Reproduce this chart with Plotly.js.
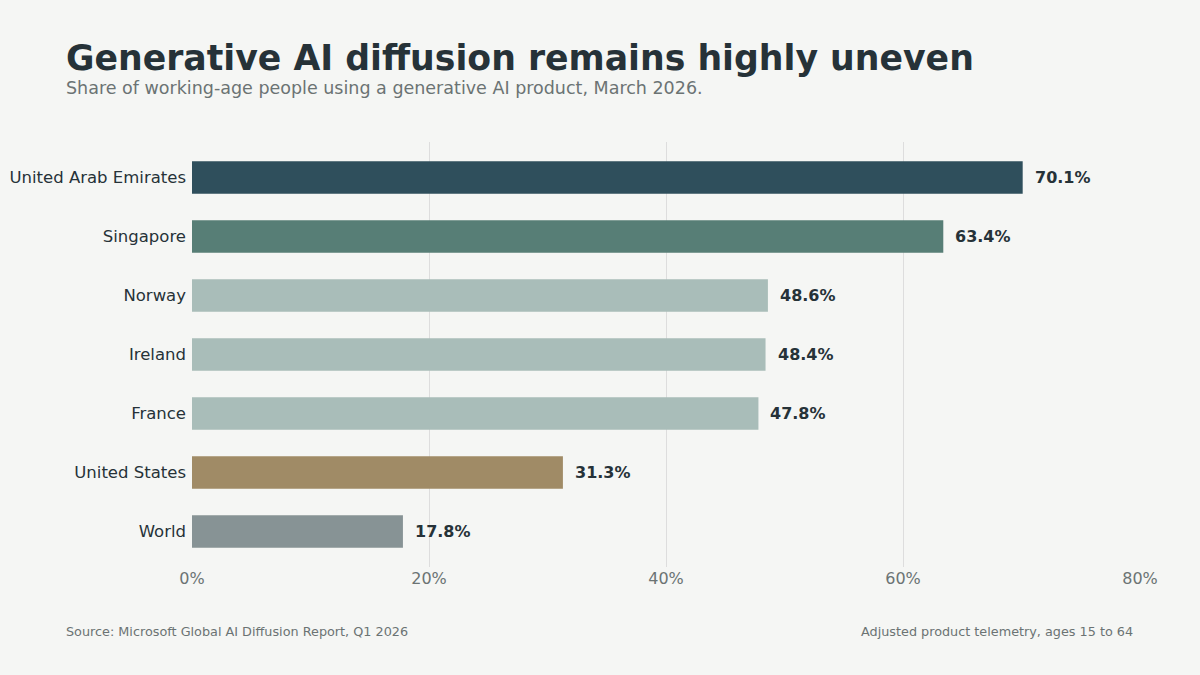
<!DOCTYPE html>
<html>
<head>
<meta charset="utf-8">
<script src="https://cdn.plot.ly/plotly-3.0.1.min.js"></script>
<style>
  html, body { margin: 0; padding: 0; background: #f5f6f4; }
  #chart { width: 1200px; height: 675px; }
</style>
</head>
<body>
<div id="chart"></div>
<script>
var countries = ["United Arab Emirates", "Singapore", "Norway", "Ireland", "France", "United States", "World"];
var shares = [70.1, 63.4, 48.6, 48.4, 47.8, 31.3, 17.8];
var barColors = ["#2f4f5c", "#577e76", "#a9bdb9", "#a9bdb9", "#a9bdb9", "#a08b66", "#879395"];
var tickVals = [0, 20, 40, 60, 80];
var tickText = ["0%", "20%", "40%", "60%", "80%"];

var ink = "#263238";
var muted = "#6b7373";

function drawChart() {
    var barTrace = {
        type: "bar",
        orientation: "h",
        y: countries,
        x: shares,
        marker: { color: barColors, line: { width: 0 } },
        hoverinfo: "skip",
    };

    var notes = [];
    for (var i in countries) {
        notes.push({
            x: shares[i],
            y: countries[i],
            xref: "x",
            yref: "y",
            text: shares[i].toFixed(1) + "%",
            showarrow: false,
            xanchor: "left",
            xshift: 10,
            font: { family: "DejaVu Sans", size: 16, color: ink, weight: "bold" },
        });
    }

    // subtitle and footer, placed in paper units of the 948x425 plot box
    notes.push({
        xref: "paper", yref: "paper", x: -128 / 948, y: 479 / 425,
        xanchor: "left", yanchor: "middle", showarrow: false,
        text: "Share of working-age people using a generative AI product, March 2026.",
        font: { family: "DejaVu Sans", size: 17.5, color: muted },
    });
    notes.push({
        xref: "paper", yref: "paper", x: -128 / 948, y: -64 / 425,
        xanchor: "left", yanchor: "middle", showarrow: false,
        text: "Source: Microsoft Global AI Diffusion Report, Q1 2026",
        font: { family: "DejaVu Sans", size: 12.8, color: muted },
    });
    notes.push({
        xref: "paper", yref: "paper", x: 943 / 948, y: -64 / 425,
        xanchor: "right", yanchor: "middle", showarrow: false,
        text: "Adjusted product telemetry, ages 15 to 64",
        font: { family: "DejaVu Sans", size: 12.8, color: muted },
    });

    var layout = {
        width: 1200,
        height: 675,
        paper_bgcolor: "#f5f6f4",
        plot_bgcolor: "#f5f6f4",
        margin: { l: 192, r: 60, t: 142, b: 108, pad: 0 },
        showlegend: false,
        bargap: 0.45,
        title: {
            text: "Generative AI diffusion remains highly uneven",
            x: 66 / 1200,
            xanchor: "left",
            xref: "container",
            yref: "container",
            y: 1 - 58 / 675,
            yanchor: "middle",
            font: { family: "DejaVu Sans", size: 34.7, color: ink, weight: "bold" },
        },
        xaxis: {
            range: [0, 80],
            tickvals: tickVals,
            ticktext: tickText,
            showgrid: true,
            gridcolor: "#dddddd",
            gridwidth: 1,
            zeroline: false,
            showline: false,
            ticks: "",
            tickfont: { family: "DejaVu Sans", size: 16, color: muted },
            fixedrange: true,
        },
        yaxis: {
            categoryorder: "array",
            categoryarray: countries,
            range: [6.6, -0.6],
            showgrid: false,
            zeroline: false,
            ticks: "",
            ticklabelstandoff: 5,
            tickfont: { family: "DejaVu Sans", size: 16.5, color: ink },
            fixedrange: true,
        },
        annotations: notes,
        font: { family: "DejaVu Sans" },
    };

    Plotly.newPlot("chart", [barTrace], layout, { staticPlot: true, displayModeBar: false });
}

drawChart();
</script>
</body>
</html>
